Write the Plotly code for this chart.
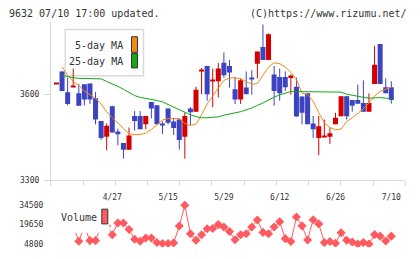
import plotly.graph_objects as go

# ---------------- data ----------------
idx = list(range(61))
label_idx = [10, 20, 30, 40, 50, 60]
date_labels = ["4/27", "5/15", "5/29", "6/12", "6/26", "7/10"]

opens = [3636, 3679, 3607, 3626, 3603, 3634, 3637, 3586, 3507, 3452,
         3558, 3470, 3430, 3407, 3524, 3524, 3495, 3573, 3561, 3498,
         3550, 3505, 3512, 3452, 3550, 3539, 3679, 3698, 3645, 3645,
         3709, 3698, 3617, 3581, 3623, 3657, 3706, 3764, 3719, 3668,
         3660, 3660, 3656, 3626, 3592, 3603, 3498, 3448, 3450, 3452,
         3495, 3523, 3593, 3580, 3580, 3569, 3539, 3635, 3774, 3624,
         3624]
highs = [3636, 3680, 3657, 3689, 3635, 3634, 3637, 3607, 3507, 3498,
         3560, 3480, 3430, 3484, 3541, 3541, 3524, 3573, 3561, 3505,
         3552, 3516, 3516, 3535, 3555, 3626, 3691, 3698, 3689, 3709,
         3745, 3719, 3660, 3655, 3679, 3683, 3748, 3842, 3811, 3698,
         3689, 3679, 3668, 3657, 3592, 3603, 3524, 3524, 3512, 3484,
         3535, 3593, 3593, 3580, 3634, 3648, 3603, 3768, 3774, 3655,
         3645]
lows = [3636, 3610, 3561, 3624, 3560, 3561, 3566, 3495, 3441, 3405,
        3467, 3422, 3376, 3407, 3473, 3478, 3478, 3516, 3495, 3461,
        3495, 3458, 3407, 3376, 3493, 3539, 3600, 3577, 3555, 3589,
        3657, 3623, 3566, 3566, 3600, 3598, 3655, 3719, 3719, 3560,
        3577, 3611, 3598, 3522, 3495, 3495, 3448, 3388, 3450, 3427,
        3495, 3523, 3512, 3539, 3567, 3539, 3539, 3635, 3635, 3603,
        3567]
closes = [3636, 3611, 3566, 3626, 3560, 3581, 3581, 3512, 3448, 3490,
          3467, 3461, 3407, 3456, 3507, 3478, 3524, 3550, 3495, 3492,
          3501, 3482, 3441, 3524, 3537, 3615, 3679, 3600, 3645, 3689,
          3666, 3675, 3581, 3648, 3600, 3651, 3748, 3719, 3808, 3611,
          3603, 3624, 3665, 3522, 3535, 3495, 3478, 3488, 3450, 3464,
          3518, 3593, 3523, 3560, 3567, 3539, 3569, 3702, 3635, 3603,
          3580]

ma5 = [None, 3695, 3665, 3644, 3631, 3610, 3597, 3586, 3566, 3539,
       3518, 3501, 3481, 3462, 3459, 3460, 3464, 3477, 3494, 3510,
       3515, 3515, 3515, 3498, 3491, 3496, 3528, 3566, 3593, 3624,
       3648, 3656, 3657, 3653, 3644, 3634, 3637, 3665, 3694, 3709,
       3706, 3695, 3675, 3651, 3603, 3598, 3576, 3535, 3501, 3484,
       3476, 3479, 3505, 3518, 3532, 3549, 3569, 3593, 3610, 3617,
       3624]
ma25 = [None, 3665, 3660, 3657, 3655, 3655, 3655, 3655, 3653, 3644,
        3636, 3627, 3617, 3605, 3595, 3589, 3586, 3583, 3578, 3573,
        3564, 3554, 3544, 3535, 3528, 3522, 3518, 3518, 3520, 3521,
        3527, 3532, 3535, 3539, 3545, 3552, 3561, 3569, 3580, 3588,
        3598, 3603, 3609, 3609, 3609, 3609, 3609, 3609, 3609, 3609,
        3609, 3607, 3600, 3596, 3591, 3589, 3586, 3588, 3588, 3586,
        3584]
volume = [None, 16500, 18500, 18500, 6700, 18000, 7200, 7200, 19000, 18500,
          11750, 20800, 20800, 15760, 8200, 6700, 9180, 9180, 5700, 5000,
          5000, 5400, 18400, 34500, 12500, 7450, 11750, 16300, 16500, 19500,
          17650, 14250, 7800, 11750, 12500, 17650, 23100, 13500, 12500, 17650,
          21800, 8700, 6460, 25430, 18550, 7700, 23300, 20060, 5700, 6460,
          5180, 13260, 7450, 6160, 4500, 5700, 4500, 11830, 10620, 6840,
          10620]

y_ticks = [3300, 3600]
vol_ticks = [4800, 19650, 34500]

# ---------------- styling ----------------
W, H = 420, 259
UP = "#d40000"
DOWN = "#3d44c0"
ORANGE = "#f08a12"
GREEN = "#16a716"
VOLC = "#ff5a60"
AX = "#d9d9d9"
TXT = "#333333"
FONT = "DejaVu Sans Mono"


def fx(p):
    return p / W


def fy(p):
    return 1 - p / H


MIN_BODY = 3.4
colors = [UP if c >= o else DOWN for o, c in zip(opens, closes)]
bases = [min(o, c) for o, c in zip(opens, closes)]
heights = [max(abs(c - o), MIN_BODY) for o, c in zip(opens, closes)]

fig = go.Figure()

# wicks
for col in (UP, DOWN):
    wx, wy = [], []
    for i, cl in zip(idx, colors):
        if cl == col:
            wx += [i, i, None]
            wy += [lows[i], highs[i], None]
    fig.add_trace(go.Scatter(x=wx, y=wy, mode="lines",
                             line=dict(color=col, width=1),
                             xaxis="x", yaxis="y", hoverinfo="skip"))

# bodies
fig.add_trace(go.Bar(x=idx, y=heights, base=bases, width=0.9,
                     marker=dict(color=colors, line=dict(width=0)),
                     xaxis="x", yaxis="y"))

# moving averages
fig.add_trace(go.Scatter(x=idx, y=ma25, mode="lines",
                         line=dict(color=GREEN, width=1),
                         xaxis="x2", yaxis="y"))
fig.add_trace(go.Scatter(x=idx, y=ma5, mode="lines",
                         line=dict(color=ORANGE, width=1),
                         xaxis="x", yaxis="y"))

# volume
fig.add_trace(go.Scatter(x=idx, y=volume, mode="lines+markers",
                         line=dict(color=VOLC, width=1),
                         marker=dict(symbol="diamond", size=7, color=VOLC),
                         connectgaps=False, xaxis="x3", yaxis="y3"))

xdom = [fx(50.9), fx(405.25)]
xr = [-1, 62.5]
main_dom = [fy(184), fy(22)]
vol_dom = [fy(252), fy(205)]
v_lo = 4800 - (252 - 248.5) * 755.7
v_hi = 4800 + (248.5 - 205) * 755.7

shapes = [
    # main legend box
    dict(type="rect", xref="paper", yref="paper", x0=fx(65.3), x1=fx(143.5),
         y0=fy(77.3), y1=fy(30), line=dict(color=AX, width=1.5),
         fillcolor="white", layer="below"),
    dict(type="rect", xref="paper", yref="paper", x0=fx(131.5), x1=fx(137.5),
         y0=fy(53.3), y1=fy(37.5), line=dict(color="#333", width=1),
         fillcolor=ORANGE, layer="above"),
    dict(type="rect", xref="paper", yref="paper", x0=fx(131.5), x1=fx(137.5),
         y0=fy(69.3), y1=fy(54.5), line=dict(color="#333", width=1),
         fillcolor=GREEN, layer="above"),
    # volume legend background
    dict(type="rect", xref="paper", yref="paper", x0=fx(54), x1=fx(109.5),
         y0=fy(237.3), y1=fy(207), line=dict(width=0),
         fillcolor="white", layer="above"),
    dict(type="rect", xref="paper", yref="paper", x0=fx(101.8), x1=fx(107.8),
         y0=fy(228.3), y1=fy(213.3), line=dict(color="#333", width=1),
         fillcolor=VOLC, layer="above"),
]

annotations = [
    dict(text="9632 07/10 17:00 updated.", xref="paper", yref="paper",
         x=fx(7), y=fy(13.5), xanchor="left", yanchor="middle",
         showarrow=False, font=dict(family=FONT, size=10, color=TXT)),
    dict(text="(C)https://www.rizumu.net/", xref="paper", yref="paper",
         x=fx(409), y=fy(13.5), xanchor="right", yanchor="middle",
         showarrow=False, font=dict(family=FONT, size=10, color=TXT)),
    dict(text="5-day MA", xref="paper", yref="paper",
         x=fx(125), y=fy(46), xanchor="right", yanchor="middle",
         showarrow=False, font=dict(family=FONT, size=10, color=TXT)),
    dict(text="25-day MA", xref="paper", yref="paper",
         x=fx(125), y=fy(63), xanchor="right", yanchor="middle",
         showarrow=False, font=dict(family=FONT, size=10, color=TXT)),
    dict(text="Volume", xref="paper", yref="paper",
         x=fx(58.5), y=fy(221.7), xanchor="left", yanchor="middle",
         showarrow=False, font=dict(family=FONT, size=10, color=TXT)),
]

fig.update_layout(
    width=W, height=H, autosize=False,
    margin=dict(l=0, r=0, t=0, b=0, pad=0),
    paper_bgcolor="white", plot_bgcolor="white",
    showlegend=False, barmode="overlay",
    font=dict(family=FONT, size=8, color=TXT),
    xaxis=dict(domain=xdom, range=xr, anchor="y",
               showline=True, linecolor=AX, linewidth=1,
               ticks="outside", ticklen=5, tickcolor=AX, tickwidth=1,
               tick0=-1, dtick=63.5 / 11, showticklabels=False,
               showgrid=False, zeroline=False),
    xaxis2=dict(overlaying="x", range=xr, anchor="y", side="bottom",
                tickvals=label_idx, ticktext=date_labels,
                ticks="outside", ticklen=9, tickcolor="rgba(0,0,0,0)",
                showline=False, showgrid=False, zeroline=False,
                tickfont=dict(family=FONT, size=8, color=TXT)),
    yaxis=dict(domain=main_dom, range=[3300, 3300 + 162 * 300 / 88],
               anchor="x", tickvals=y_ticks,
               showline=True, linecolor=AX, linewidth=1,
               ticks="outside", ticklen=6, tickcolor=AX, tickwidth=1,
               ticklabelstandoff=3,
               showgrid=False, zeroline=False,
               tickfont=dict(family=FONT, size=8, color=TXT)),
    xaxis3=dict(domain=xdom, range=xr, anchor="y3", visible=False),
    yaxis3=dict(domain=vol_dom, range=[v_lo, v_hi], anchor="x3",
                tickvals=vol_ticks, ticktext=[str(v) for v in vol_ticks],
                ticks="outside", ticklen=5, tickcolor="rgba(0,0,0,0)",
                showline=False, showgrid=False, zeroline=False,
                tickfont=dict(family=FONT, size=8, color=TXT)),
    shapes=shapes,
    annotations=annotations,
)

fig.write_html("out.html")
